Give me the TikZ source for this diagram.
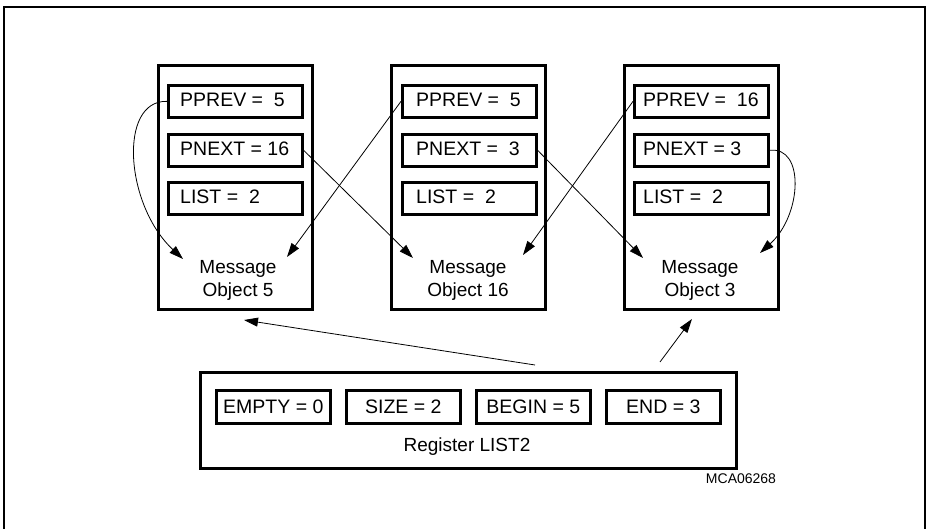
\documentclass[tikz,border=0pt]{standalone}
\usepackage{fontspec}
\setmainfont{Liberation Sans}
\usetikzlibrary{arrows.meta}
\begin{document}
\begin{tikzpicture}[x=1pt,y=-1pt,
  obox/.style={draw,line width=2.7pt,minimum width=154pt,minimum height=244pt,anchor=north west,inner sep=0pt},
  field/.style={draw,line width=2.7pt,minimum width=134pt,minimum height=32pt,anchor=north west,inner sep=0pt},
  rfield/.style={draw,line width=2.7pt,minimum width=114pt,minimum height=33pt,anchor=north west,inner sep=0pt,font=\fontsize{19.5pt}{23pt}\selectfont},
  lbl/.style={anchor=base west,inner sep=0pt,font=\fontsize{19.5pt}{23pt}\selectfont},
  ctext/.style={inner sep=0pt,font=\fontsize{19pt}{23pt}\selectfont,align=center},
  conn/.style={line width=0.8pt,-{Triangle[length=14pt,width=9pt]}}
]
\useasboundingbox (0,0) rectangle (927,529);
\draw[line width=2pt] (4,540) -- (4,7) -- (925,7) -- (925,540);

% message objects
\node[obox] (m1) at (157,64) {};
\node[obox] (m2) at (390,64) {};
\node[obox] (m3) at (623,64) {};

\node[field] (p1) at (167,84) {};
\node[field] (n1) at (167,133) {};
\node[field] (l1) at (167,181) {};
\node[field] (p2) at (401,84) {};
\node[field] (n2) at (401,133) {};
\node[field] (l2) at (401,181) {};
\node[field] (p3) at (633,84) {};
\node[field] (n3) at (633,133) {};
\node[field] (l3) at (633,181) {};

\node[lbl] (tp1) at (180,107) {PPREV =\ \ 5};
\node[lbl] (tn1) at (180,156) {PNEXT = 16};
\node[lbl] (tl1) at (180,204) {LIST =\ \ 2};
\node[lbl] (tp2) at (416,107) {PPREV =\ \ 5};
\node[lbl] (tn2) at (416,156) {PNEXT =\ \ 3};
\node[lbl] (tl2) at (416,204) {LIST =\ \ 2};
\node[lbl] (tp3) at (643,107) {PPREV =\ \ 16};
\node[lbl] (tn3) at (643,156) {PNEXT = 3};
\node[lbl] (tl3) at (643,204) {LIST =\ \ 2};

\node[ctext,anchor=base] (mo1a) at (238,274) {Message};
\node[ctext,anchor=base] (mo1b) at (238,296.5) {Object 5};
\node[ctext,anchor=base] (mo2a) at (468,274) {Message};
\node[ctext,anchor=base] (mo2b) at (468,296.5) {Object 16};
\node[ctext,anchor=base] (mo3a) at (700,274) {Message};
\node[ctext,anchor=base] (mo3b) at (700,296.5) {Object 3};

% register
\node[draw,line width=2.7pt,minimum width=536pt,minimum height=96pt,anchor=north west,inner sep=0pt] (reg) at (199,371) {};
\node[rfield] (e) at (215,389) {EMPTY = 0};
\node[rfield] (s) at (345,389) {SIZE = 2};
\node[rfield] (b) at (475,389) {BEGIN = 5};
\node[rfield] (en) at (605,389) {END = 3};
\node[ctext,anchor=base] (regl) at (467,451) {Register LIST2};

\node[inner sep=0pt,anchor=base,font=\fontsize{14pt}{16pt}\selectfont] (mca) at (741,483) {MCA06268};

% tips
\coordinate (t1l) at (183,259);
\coordinate (t1r) at (287,257);
\coordinate (t2l) at (413,258);
\coordinate (t2r) at (523,255);
\coordinate (t3l) at (643,258);
\coordinate (t3r) at (760,253);
\coordinate (rs1) at (535,365);
\coordinate (rt1) at (244,320);
\coordinate (rs2) at (660,362);
\coordinate (rt2) at (692,319);

\draw[conn] (p1.west) .. controls (118,100) and (125,205) .. (t1l);
\draw[conn] (n1.east) -- (t2l);
\draw[conn] (p2.west) -- (t1r);
\draw[conn] (n2.east) -- (t3l);
\draw[conn] (p3.west) -- (t2r);
\draw[conn] (n3.east) .. controls (805,146) and (802,215) .. (t3r);
\draw[conn] (rs1) -- (rt1);
\draw[conn] (rs2) -- (rt2);
\end{tikzpicture}
\end{document}
